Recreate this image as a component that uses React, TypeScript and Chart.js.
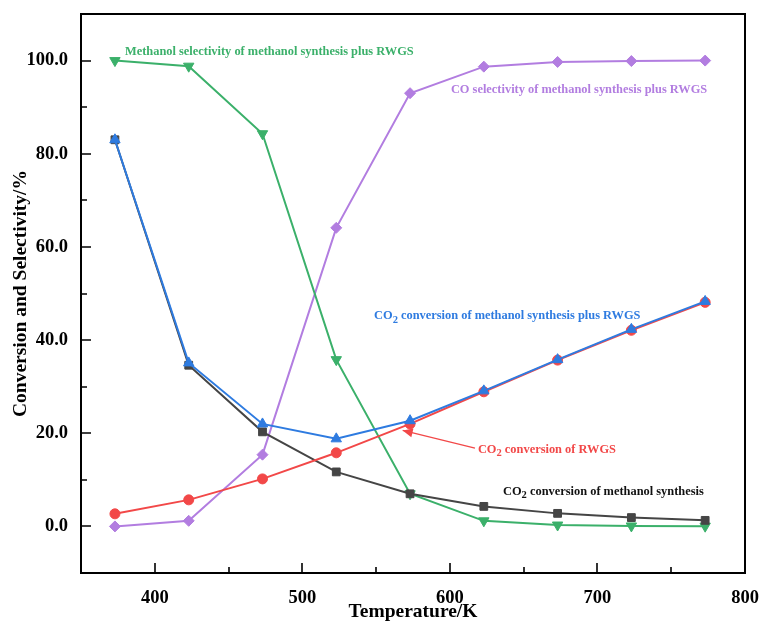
import React, { useEffect, useRef } from 'react';
import { Chart, registerables } from 'chart.js';

Chart.register(...registerables);

// ---- data ----
const temperatures = [373, 423, 473, 523, 573, 623, 673, 723, 773];
const methanolSelectivity = [100, 98.8, 84.3, 35.8, 7.0, 1.2, 0.3, 0.1, 0.05];
const coSelectivity = [0, 1.2, 15.4, 64.1, 93.0, 98.7, 99.7, 99.9, 100];
const co2ConvTotal = [83.0, 35.1, 22.0, 18.8, 22.7, 29.1, 35.8, 42.3, 48.3];
const co2ConvMethanol = [83.0, 34.6, 20.3, 11.7, 7.0, 4.3, 2.8, 1.9, 1.3];
const co2ConvRWGS = [2.7, 5.7, 10.2, 15.8, 22.0, 28.9, 35.7, 42.1, 48.1];

const xMajorTicks = [400, 500, 600, 700, 800];
const xMinorTicks = [450, 550, 650, 750];
const yMajorTicks = [0, 20, 40, 60, 80, 100];
const yMinorTicks = [10, 30, 50, 70, 90];

// annotation texts: [prefix, subscript, suffix]
const annotationTexts = [
  ['Methanol selectivity of methanol synthesis plus RWGS', '', ''],
  ['CO selectivity of methanol synthesis plus RWGS', '', ''],
  ['CO', '2', ' conversion of methanol synthesis plus RWGS'],
  ['CO', '2', ' conversion of RWGS'],
  ['CO', '2', ' conversion of methanol synthesis'],
];
const annotationAnchorX = [379.8, 600.7, 548.6, 619, 636];
const annotationAnchorY = [101.8, 93.7, 45.2, 16.5, 7.5];
const arrowFrom = [617, 16.8];
const arrowTo = [568, 20.6];

const GREEN = '#3bb06a';
const PURPLE = '#b27de0';
const BLUE = '#2e7be0';
const RED = '#f24848';
const BLACK = '#454545';
const annotationColors = [GREEN, PURPLE, BLUE, RED, '#111111'];

const SERIF = '"Liberation Serif", "DejaVu Serif", serif';

const pts = (ys: number[]) => temperatures.map((t, i) => ({ x: t, y: ys[i] }));

const framePlugin = {
  id: 'frameAndNotes',
  afterDraw(chart: any) {
    const { ctx, chartArea } = chart;
    const xs = chart.scales.x;
    const ys = chart.scales.y;
    const { left, right, top, bottom } = chartArea;
    ctx.save();
    ctx.strokeStyle = '#000';
    ctx.lineWidth = 2;
    ctx.strokeRect(left, top, right - left, bottom - top);
    ctx.lineWidth = 1.6;
    ctx.beginPath();
    xMajorTicks.forEach((v) => {
      const px = Math.round(xs.getPixelForValue(v));
      ctx.moveTo(px, bottom);
      ctx.lineTo(px, bottom - 10);
    });
    xMinorTicks.forEach((v) => {
      const px = Math.round(xs.getPixelForValue(v));
      ctx.moveTo(px, bottom);
      ctx.lineTo(px, bottom - 6);
    });
    yMajorTicks.forEach((v) => {
      const py = Math.round(ys.getPixelForValue(v));
      ctx.moveTo(left, py);
      ctx.lineTo(left + 10, py);
    });
    yMinorTicks.forEach((v) => {
      const py = Math.round(ys.getPixelForValue(v));
      ctx.moveTo(left, py);
      ctx.lineTo(left + 6, py);
    });
    ctx.stroke();

    // annotations
    ctx.textBaseline = 'middle';
    ctx.textAlign = 'left';
    const size = 12.4;
    annotationTexts.forEach((parts, i) => {
      const x0 = xs.getPixelForValue(annotationAnchorX[i]);
      const y0 = ys.getPixelForValue(annotationAnchorY[i]);
      ctx.fillStyle = annotationColors[i];
      ctx.font = `bold ${size}px ${SERIF}`;
      let x = x0;
      ctx.fillText(parts[0], x, y0);
      x += ctx.measureText(parts[0]).width;
      if (parts[1]) {
        ctx.font = `bold ${size * 0.85}px ${SERIF}`;
        ctx.fillText(parts[1], x, y0 + 4);
        x += ctx.measureText(parts[1]).width;
        ctx.font = `bold ${size}px ${SERIF}`;
      }
      if (parts[2]) ctx.fillText(parts[2], x, y0);
    });

    // arrow
    const ax0 = xs.getPixelForValue(arrowFrom[0]);
    const ay0 = ys.getPixelForValue(arrowFrom[1]);
    const ax1 = xs.getPixelForValue(arrowTo[0]);
    const ay1 = ys.getPixelForValue(arrowTo[1]);
    ctx.strokeStyle = RED;
    ctx.fillStyle = RED;
    ctx.lineWidth = 1.2;
    ctx.beginPath();
    ctx.moveTo(ax0, ay0);
    ctx.lineTo(ax1, ay1);
    ctx.stroke();
    const ang = Math.atan2(ay1 - ay0, ax1 - ax0);
    const hl = 10;
    const hw = 4.5;
    ctx.beginPath();
    ctx.moveTo(ax1, ay1);
    ctx.lineTo(ax1 - hl * Math.cos(ang) + hw * Math.sin(ang), ay1 - hl * Math.sin(ang) - hw * Math.cos(ang));
    ctx.lineTo(ax1 - hl * Math.cos(ang) - hw * Math.sin(ang), ay1 - hl * Math.sin(ang) + hw * Math.cos(ang));
    ctx.closePath();
    ctx.fill();
    ctx.restore();
  },
};

export default function App() {
  const canvasRef = useRef<HTMLCanvasElement | null>(null);

  useEffect(() => {
    if (!canvasRef.current) return;
    const mk = (label: string, data: number[], color: string, style: any, rotation: number, radius: number, order: number) => ({
      label,
      data: pts(data),
      borderColor: color,
      backgroundColor: color,
      borderWidth: 2,
      pointStyle: style,
      pointRotation: rotation,
      pointRadius: radius,
      pointBorderWidth: 1,
      pointBackgroundColor: color,
      pointBorderColor: color,
      tension: 0,
      order,
    });
    const chart = new Chart(canvasRef.current, {
      type: 'line',
      data: {
        datasets: [
          mk('CO2 conversion of methanol synthesis plus RWGS', co2ConvTotal, BLUE, 'triangle', 0, 6, 1),
          mk('CO2 conversion of RWGS', co2ConvRWGS, RED, 'circle', 0, 5, 2),
          mk('CO2 conversion of methanol synthesis', co2ConvMethanol, BLACK, 'rect', 0, 5.5, 3),
          mk('Methanol selectivity of methanol synthesis plus RWGS', methanolSelectivity, GREEN, 'triangle', 180, 6, 4),
          mk('CO selectivity of methanol synthesis plus RWGS', coSelectivity, PURPLE, 'rectRot', 0, 5.5, 5),
        ] as any,
      },
      options: {
        responsive: false,
        animation: false,
        events: [],
        layout: { padding: { left: 0, top: 14, right: 18, bottom: 0 } },
        plugins: { legend: { display: false }, tooltip: { enabled: false } },
        scales: {
          x: {
            type: 'linear',
            min: 350,
            max: 800,
            grid: { display: true, drawOnChartArea: false, drawTicks: true, tickLength: 14, tickColor: 'rgba(0,0,0,0)' },
            border: { display: false },
            afterBuildTicks: (s: any) => {
              s.ticks = xMajorTicks.map((v) => ({ value: v }));
            },
            afterFit: (s: any) => {
              s.height = 51;
            },
            ticks: {
              color: '#000',
              padding: 0,
              maxRotation: 0,
              font: { family: SERIF, size: 18.5, weight: 'bold' },
              callback: (v: any) => String(v),
            },
            title: {
              display: true,
              text: 'Temperature/K',
              color: '#000',
              padding: { top: 0, bottom: 0 },
              font: { family: SERIF, size: 19.5, weight: 'bold' },
            },
          },
          y: {
            type: 'linear',
            min: -10,
            max: 110,
            grid: { display: true, drawOnChartArea: false, drawTicks: true, tickLength: 13, tickColor: 'rgba(0,0,0,0)' },
            border: { display: false },
            afterBuildTicks: (s: any) => {
              s.ticks = yMajorTicks.map((v) => ({ value: v }));
            },
            afterFit: (s: any) => {
              s.width = 81;
            },
            ticks: {
              color: '#000',
              padding: 0,
              font: { family: SERIF, size: 18.5, weight: 'bold' },
              callback: (v: any) => Number(v).toFixed(1),
            },
            title: {
              display: true,
              text: 'Conversion and Selectivity/%',
              color: '#000',
              padding: { top: 9, bottom: 0 },
              font: { family: SERIF, size: 19.5, weight: 'bold' },
            },
          },
        },
      } as any,
      plugins: [framePlugin],
    });
    return () => chart.destroy();
  }, []);

  return (
    <div style={{ position: 'fixed', left: 0, top: 0, width: 763, height: 624, background: '#fff' }}>
      <canvas ref={canvasRef} width={763} height={624} style={{ display: 'block' }} />
    </div>
  );
}
